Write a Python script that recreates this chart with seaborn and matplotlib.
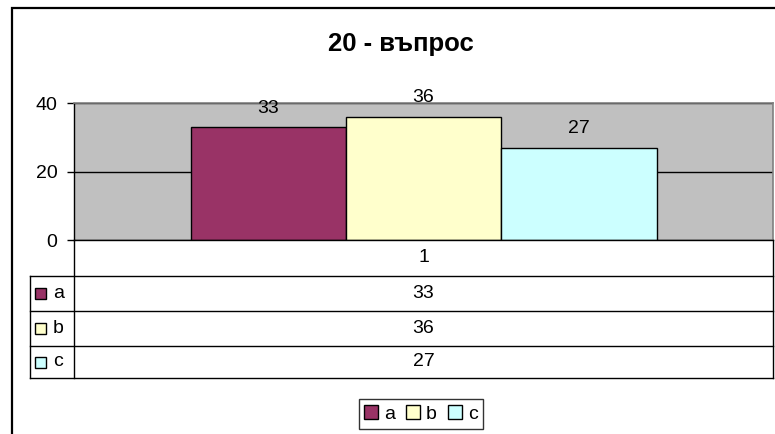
import matplotlib
matplotlib.use("Agg")
import matplotlib.pyplot as plt
from matplotlib.patches import Rectangle
from matplotlib.lines import Line2D
import seaborn as sns
import pandas as pd

# Chart data
title = "20 - въпрос"
category = "1"
series = ["a", "b", "c"]
values = [33, 36, 27]
colors = ["#993366", "#FFFFCC", "#CCFFFF"]
yticks = [0, 20, 40]

plt.rcParams["font.family"] = ["Liberation Sans", "DejaVu Sans"]
FS = 14

W, H = 775, 434
fig = plt.figure(figsize=(W / 100, H / 100), dpi=100)
fig.patch.set_facecolor("white")


def fx(x):
    return x / W


def fy(y):
    return 1 - y / H


# plot area in pixel coordinates
L, R, T, B = 74, 773, 103, 240
ax = fig.add_axes([fx(L), fy(B), fx(R) - fx(L), fy(T) - fy(B)])
ax.set_facecolor("#C0C0C0")

df = pd.DataFrame({"cat": [category] * len(series), "series": series, "value": values})
sns.barplot(data=df, x="cat", y="value", hue="series", hue_order=series,
            palette=colors, saturation=1, width=2 / 3, edgecolor="black",
            linewidth=1, legend=False, ax=ax)

ax.set_xlim(-0.5, 0.5)
ax.set_ylim(0, 40)
ax.set_yticks(yticks)
ax.set_xticks([])
ax.set_xlabel("")
ax.set_ylabel("")
ax.tick_params(axis="y", direction="out", length=5, width=1, pad=7,
               labelsize=FS, colors="black")
ax.set_axisbelow(True)
ax.yaxis.grid(True, color="black", linewidth=1)
for side in ("top", "right"):
    ax.spines[side].set_color("#808080")
    ax.spines[side].set_linewidth(1.2)
for side in ("left", "bottom"):
    ax.spines[side].set_color("black")
    ax.spines[side].set_linewidth(1)

for cont in ax.containers:
    ax.bar_label(cont, fmt="%d", padding=7.5, fontsize=FS)

# title
fig.text(fx(401), fy(44), title, ha="center", va="center",
         fontsize=18.5, fontweight="bold")

# data table under the plot
row_y = [240, 276, 311, 346, 378]
lw = 1
lines = []
for y in row_y[1:]:
    lines.append(([30, R], [y, y]))
lines.append(([L, L], [B, row_y[-1]]))
lines.append(([30, 30], [row_y[1], row_y[-1]]))
lines.append(([R, R], [B, row_y[-1]]))
for xs, ys in lines:
    fig.add_artist(Line2D([fx(v) for v in xs], [fy(v) for v in ys],
                          color="black", linewidth=lw, transform=fig.transFigure))

cx = (L + R) / 2
fig.text(fx(cx), fy((row_y[0] + row_y[1]) / 2), category,
         ha="center", va="center", fontsize=FS)
for i, (name, val, col) in enumerate(zip(series, values, colors)):
    yc = (row_y[i + 1] + row_y[i + 2]) / 2
    fig.text(fx(cx), fy(yc), f"{val}", ha="center", va="center", fontsize=FS)
    fig.add_artist(Rectangle((fx(35), fy(yc + 5.5)), fx(11), 11 / H,
                             facecolor=col, edgecolor="black", linewidth=1,
                             transform=fig.transFigure))
    fig.text(fx(53), fy(yc), name, ha="left", va="center", fontsize=FS)

# legend
handles = [Rectangle((0, 0), 1, 1, facecolor=c, edgecolor="black", linewidth=1)
           for c in colors]
leg = fig.legend(handles, series, loc="center", bbox_to_anchor=(fx(421), fy(414)),
                 ncol=3, fontsize=FS, handlelength=0.7, handleheight=0.7,
                 handletextpad=0.3, columnspacing=0.6, borderpad=0.3,
                 fancybox=False, frameon=True)
leg.get_frame().set_edgecolor("black")
leg.get_frame().set_linewidth(1)

# chart border
fig.add_artist(Rectangle((fx(12), fy(470)), fx(800), 462 / H, fill=False,
                         edgecolor="black", linewidth=1.6,
                         transform=fig.transFigure))

fig.savefig("out.png", dpi=100)
